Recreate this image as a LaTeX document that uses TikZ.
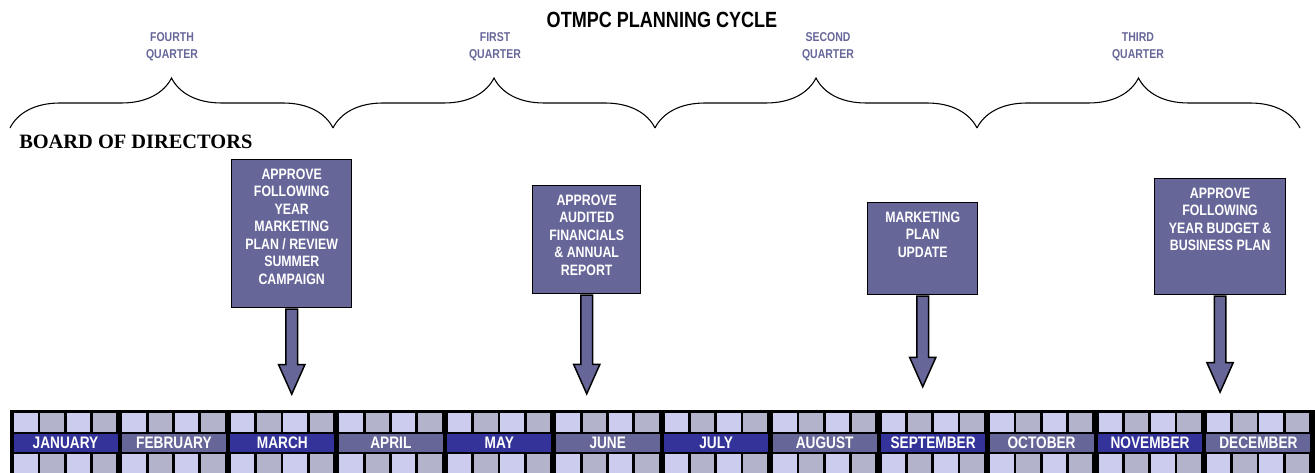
\documentclass[tikz,border=0pt]{standalone}
\usepackage{fontspec}
\setmainfont{Liberation Sans}
\newfontfamily\narrowsf{Liberation Sans}[FakeStretch=0.82]
\newfontfamily\boardfont{Liberation Serif}
\usetikzlibrary{positioning,shapes.arrows,decorations.pathreplacing}

\definecolor{planbox}{RGB}{102,102,153}
\definecolor{planband}{RGB}{51,51,153}
\definecolor{celllight}{RGB}{204,204,238}
\definecolor{cellgrey}{RGB}{179,179,204}

% text of a board action, kept at the top of its box
\newcommand{\boxlines}[3]{\parbox[c][#2][t]{#1}{\centering\vspace*{5.5pt}\strut #3\par}}

\tikzset{
  qlabel/.style={font={\narrowsf\bfseries\fontsize{9.6}{12.75}\selectfont}, text=planbox, align=center, inner sep=0},
  qbrace/.style={decorate, decoration={brace, amplitude=37.5pt}, line width=0.8pt},
  board/.style={draw=black, fill=planbox, line width=1.1pt, inner sep=0, anchor=north west, text=white,
    font={\narrowsf\bfseries\fontsize{11.3}{13.1}\selectfont}},
  downarrow/.style={single arrow, shape border rotate=270, draw=black, fill=planbox, line width=1.1pt,
    inner sep=3.8pt, single arrow head extend=5.5pt, single arrow tip angle=48, anchor=tail},
  monthband/.style={minimum width=78pt, minimum height=13.5pt, inner sep=0, text=white,
    font={\narrowsf\bfseries\fontsize{12.5}{14}\selectfont}},
}

\begin{document}
\begin{tikzpicture}[x=0.75pt, y=-0.75pt]
	\useasboundingbox (0,0) rectangle (1315,473);

	% Title
	\node[font={\narrowsf\bfseries\fontsize{16.5}{18}\selectfont}, inner sep=0] (title) at (662,20) {OTMPC PLANNING CYCLE};

	% Quarters
	\foreach \a/\b/\lx/\q/\txt in {10/333/172/q4/FOURTH, 333/655/495/q1/FIRST, 655/977/828/q2/SECOND, 977/1300/1138/q3/THIRD}{
		\draw[qbrace] (\a,128) -- (\b,128);
		\node[qlabel] (\q) at (\lx,47) {\txt\\QUARTER};
	}

	\node[anchor=west, inner sep=0, font={\boardfont\bfseries\fontsize{15.3}{18}\selectfont}] (bod) at (19,142) {BOARD OF DIRECTORS};

	% Board actions
	\node[board] (act-mar) at (231,159) {\boxlines{90pt}{111pt}{APPROVE\\FOLLOWING\\YEAR\\MARKETING\\PLAN / REVIEW\\SUMMER\\CAMPAIGN}};
	\node[board] (act-jun) at (532,185) {\boxlines{81pt}{81pt}{APPROVE\\AUDITED\\FINANCIALS\\\& ANNUAL\\REPORT}};
	\node[board] (act-sep) at (867,202) {\boxlines{82.5pt}{69pt}{MARKETING\\PLAN\\UPDATE}};
	\node[board] (act-dec) at (1154,178) {\boxlines{98pt}{87pt}{APPROVE\\FOLLOWING\\YEAR BUDGET \&\\BUSINESS PLAN}};

	\node[downarrow, minimum height=63.75pt] (arr-mar) at (act-mar.south) {};
	\node[downarrow, minimum height=74pt] (arr-jun) at (act-jun.south) {};
	\node[downarrow, minimum height=68pt] (arr-sep) at (act-sep.south) {};
	\node[downarrow, minimum height=72pt] (arr-dec) at (act-dec.south) {};

	% Calendar strip
	\fill[black] (10,410) rectangle (1315,473);
	\foreach \m [count=\i from 0] in {JANUARY,FEBRUARY,MARCH,APRIL,MAY,JUNE,JULY,AUGUST,SEPTEMBER,OCTOBER,NOVEMBER,DECEMBER}{
		\pgfmathsetmacro\mx{13+108.45*\i}
		\foreach \k in {0,...,3}{
			\pgfmathsetmacro\cx{\mx+1+26.25*\k}
			\ifodd\k \def\cc{cellgrey}\else\def\cc{celllight}\fi
			\fill[\cc] (\cx,413) rectangle ++(23.5,19);
			\fill[\cc] (\cx,454) rectangle ++(23.5,19);
		}
		\ifodd\i \def\bc{planbox}\else\def\bc{planband}\fi
		\node[monthband, fill=\bc] (m-\i) at (\mx+52.5,443) {\m};
	}
\end{tikzpicture}
\end{document}
